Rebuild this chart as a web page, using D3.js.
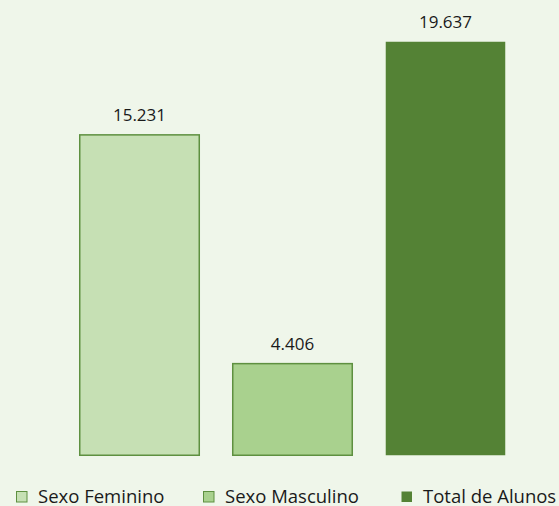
<!DOCTYPE html>
<html>
<head>
<meta charset="utf-8">
<script src="https://cdn.jsdelivr.net/npm/d3@7"></script>
<style>
  body { margin: 0; background: #EFF6EA; }
  svg { display: block; font-family: "Open Sans", "Noto Sans", sans-serif; }
</style>
</head>
<body>
<div id="chart"></div>
<script>
// chart data
const categories = ["Sexo Feminino", "Sexo Masculino", "Total de Alunos"];
const values = [15231, 4406, 19637];
const labels = ["15.231", "4.406", "19.637"];
const fills = ["#C6E0B4", "#A9D18E", "#548235"];

const width = 559, height = 506;

const svg = d3.select("#chart")
    .append("svg")
    .attr("width", width)
    .attr("height", height);

svg.append("rect")
    .attr("width", width)
    .attr("height", height)
    .attr("fill", "#EFF6EA");

// x band scale over the plot area
const x = d3.scaleBand()
    .domain(categories)
    .range([48.4, 536.6])
    .paddingInner(0.209)
    .paddingOuter(0.2);

const y = d3.scaleLinear()
    .domain([0, 19637])
    .range([456, 41]);

svg.append("g")
    .selectAll("rect")
    .data(categories)
    .enter().append("rect")
    .attr("x", d => x(d) + 0.75)
    .attr("y", (d, i) => y(values[i]) + 0.75)
    .attr("width", x.bandwidth() - 1.5)
    .attr("height", (d, i) => y(0) - y(values[i]) - 1.5)
    .attr("fill", (d, i) => fills[i])
    .attr("stroke", (d, i) => i < 2 ? "#5E9040" : "none")
    .attr("stroke-width", 1.5);

// value labels above the bars
svg.append("g")
    .selectAll("text")
    .data(categories)
    .enter().append("text")
    .attr("x", d => x(d) + x.bandwidth() / 2)
    .attr("y", (d, i) => y(values[i]) - 13)
    .attr("text-anchor", "middle")
    .attr("font-size", 17)
    .attr("fill", "#1a1a1a")
    .text((d, i) => labels[i]);

// legend
const legendX = [16, 203, 401];
const legend = svg.append("g")
    .selectAll("g")
    .data(categories)
    .enter().append("g")
    .attr("transform", (d, i) => `translate(${legendX[i]},491)`);

legend.append("rect")
    .attr("x", 0.5)
    .attr("y", 0.5)
    .attr("width", 10.5)
    .attr("height", 10.5)
    .attr("fill", (d, i) => fills[i])
    .attr("stroke", (d, i) => i < 2 ? "#5E9040" : "none");

legend.append("text")
    .attr("x", 22)
    .attr("y", 11.5)
    .attr("font-size", 18.5)
    .attr("fill", "#1a1a1a")
    .text(d => d);
</script>
</body>
</html>
